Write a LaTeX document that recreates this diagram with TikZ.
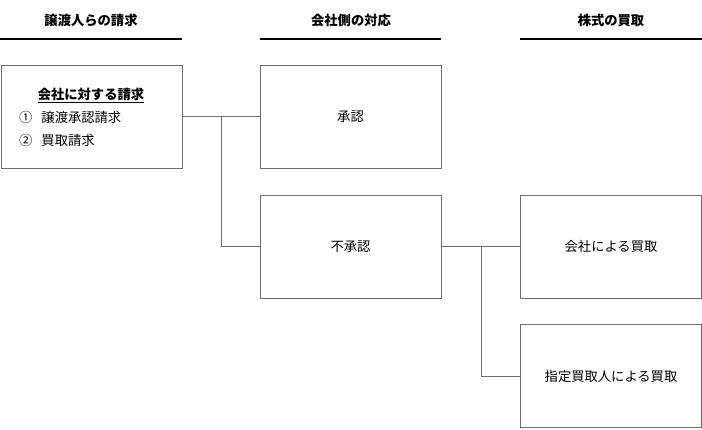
\documentclass[tikz,border=0pt]{standalone}
\usepackage{fontspec}
\setmainfont{Noto Sans CJK JP}
\usetikzlibrary{positioning}
\definecolor{boxgray}{RGB}{110,110,110}
\tikzset{
  stepbox/.style={draw=boxgray, line width=0.8pt, minimum width=181pt, minimum height=103pt, inner sep=0pt},
  head/.style={font=\bfseries\fontsize{13.3}{16}\selectfont},
  txt/.style={font=\fontsize{13.3}{16}\selectfont, inner sep=0pt},
  link/.style={draw=boxgray, line width=0.8pt},
  rule/.style={line width=1.6pt}
}
\begin{document}
\begin{tikzpicture}[x=1pt,y=-1pt]
			\useasboundingbox (0,0) rectangle (702,429);
			% headings
			\node[head] (h1) at (91,20) {譲渡人らの請求};
			\node[head] (h2) at (351,20) {会社側の対応};
			\node[head] (h3) at (611,20) {株式の買取};
			\draw[rule] (0,39)--(182,39);
			\draw[rule] (260,39)--(441,39);
			\draw[rule] (520,39)--(702,39);
			% boxes
			\node[stepbox] (claim) at (91.5,116.5) {};
			\node[txt, font=\bfseries\fontsize{13.3}{16}\selectfont] (title) at (91,95) {\underline{会社に対する請求}};
			\node[txt, anchor=west] (item1) at (19,117) {①\hspace{9pt}譲渡承認請求};
			\node[txt, anchor=west] (item2) at (19,140) {②\hspace{9pt}買取請求};
			\node[stepbox, txt] (accept) at (350.5,116.5) {承認};
			\node[stepbox, txt] (reject) at (350.5,246.5) {不承認};
			\node[stepbox, txt] (buyco) at (611,246.5) {会社による買取};
			\node[stepbox, txt] (buyer) at (611,376) {指定買取人による買取};
			% connectors
			\coordinate (j1) at (221,116.5);
			\coordinate (j2) at (481,246.5);
			\draw[link] (claim.east) -- (accept.west);
			\draw[link] (j1) |- (reject.west);
			\draw[link] (reject.east) -- (buyco.west);
			\draw[link] (j2) |- (buyer.west);
\end{tikzpicture}
\end{document}
